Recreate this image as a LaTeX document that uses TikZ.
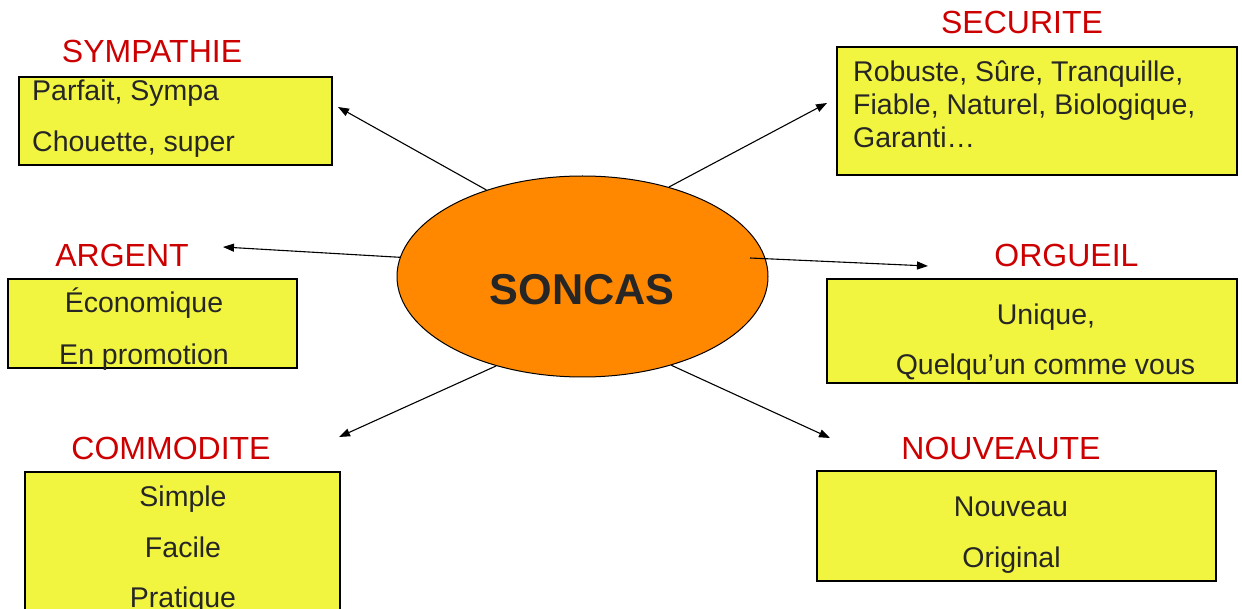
\documentclass[tikz,border=0pt]{standalone}
\usepackage{fontspec}
\setmainfont{Liberation Sans}
\usetikzlibrary{arrows.meta,shapes.geometric}
\definecolor{boxyellow}{RGB}{242,245,64}
\definecolor{huborange}{RGB}{255,136,0}
\definecolor{labelred}{RGB}{204,0,0}
\definecolor{inkgray}{RGB}{38,38,38}
\tikzset{
  ybox/.style={draw=black, line width=1.2pt, fill=boxyellow, inner sep=0pt},
  cat/.style={text=labelred, font=\fontsize{32}{32}\selectfont, anchor=base, inner sep=0pt},
  item/.style={text=inkgray, font=\fontsize{28.5}{28.5}\selectfont, anchor=base, inner sep=0pt},
  itemw/.style={item, anchor=base west},
  link/.style={line width=1.1pt, -{Triangle[length=11pt,width=8pt]}},
}
\begin{document}
\begin{tikzpicture}[x=1pt,y=-1pt]
\useasboundingbox (0,0) rectangle (1242,609);

% category boxes
\node[ybox, minimum width=313pt, minimum height=88pt] (bSym) at (175.5,121) {};
\node[ybox, minimum width=289pt, minimum height=89pt] (bArg) at (152.5,323.5) {};
\node[ybox, minimum width=315pt, minimum height=160pt] (bCom) at (182.5,552) {};
\node[ybox, minimum width=400pt, minimum height=128pt] (bSec) at (1037,111) {};
\node[ybox, minimum width=410pt, minimum height=104pt] (bOrg) at (1032,331) {};
\node[ybox, minimum width=399pt, minimum height=110pt] (bNou) at (1016.5,526) {};

% central ellipse
\node[draw=black, line width=1pt, fill=huborange, ellipse, minimum width=371pt, minimum height=201pt, inner sep=0pt] (hub) at (582.5,276.5) {};
\node[text=inkgray, font=\bfseries\fontsize{43.2}{43.2}\selectfont, anchor=base, inner sep=0pt] (hubtxt) at (582,305) {SONCAS};

% category titles
\node[cat] (tSym) at (152,63) {SYMPATHIE};
\node[cat] (tArg) at (122,267) {ARGENT};
\node[cat] (tCom) at (171,459) {COMMODITE};
\node[cat] (tSec) at (1022,34) {SECURITE};
\node[cat] (tOrg) at (1066.5,267) {ORGUEIL};
\node[cat] (tNou) at (1001,459) {NOUVEAUTE};

% box contents
\node[itemw] (s1) at (32,101) {Parfait, Sympa};
\node[itemw] (s2) at (32,152) {Chouette, super};
\node[item] (a1) at (144,313) {Économique};
\node[item] (a2) at (144,365) {En promotion};
\node[item] (c1) at (183,506) {Simple};
\node[item] (c2) at (183,557) {Facile};
\node[item] (c3) at (183,607) {Pratique};
\node[itemw] (e1) at (853,82) {Robuste, Sûre, Tranquille,};
\node[itemw] (e2) at (853,115) {Fiable, Naturel, Biologique,};
\node[itemw] (e3) at (853,148) {Garanti…};
\node[item] (o1) at (1046,325) {Unique,};
\node[item] (o2) at (1045.5,375) {Quelqu’un comme vous};
\node[item] (n1) at (1011,516) {Nouveau};
\node[item] (n2) at (1011.5,567) {Original};

% arrow tips
\coordinate (pSym) at (338,107);
\coordinate (pArg) at (223,247);
\coordinate (pCom) at (339,437);
\coordinate (pSec) at (827,103);
\coordinate (pOrg) at (928,266);
\coordinate (pNou) at (830,438);
\coordinate (qOrg) at (750,258);

% connectors
\draw[link] (hub.138) -- (pSym);
\draw[link] (hub.174) -- (pArg);
\draw[link] (hub.226) -- (pCom);
\draw[link] (hub.46.7) -- (pSec);
\draw[link] (qOrg) -- (pOrg);
\draw[link] (hub.315) -- (pNou);
\end{tikzpicture}
\end{document}
